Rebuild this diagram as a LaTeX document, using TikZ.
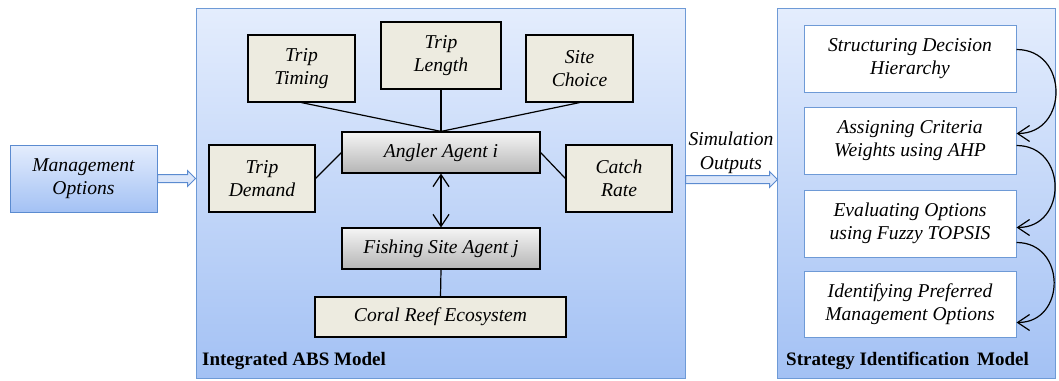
\documentclass[tikz,border=0pt]{standalone}
\usepackage{fontspec}
\setmainfont{Liberation Serif}
\usetikzlibrary{arrows.meta,calc}

\definecolor{panelborder}{HTML}{6E9AD6}
\definecolor{paneltop}{HTML}{E4EDFD}
\definecolor{panelbottom}{HTML}{A3C1F4}
\definecolor{beige}{HTML}{EDEBE0}
\definecolor{arrowfill}{HTML}{DCE7FA}
\definecolor{arrowline}{HTML}{5B8BD0}

\begin{document}
\begin{tikzpicture}[x=1pt,y=-1pt,
  box/.style={rectangle, inner sep=0pt, align=center,
    font=\fontsize{19.6}{23.5}\selectfont\itshape},
  factor/.style={box, draw=black, line width=1.2pt, fill=beige},
  agent/.style={box, draw=black, line width=1.2pt,
    top color=gray!8, bottom color=gray!58},
  stepbox/.style={box, draw=panelborder, line width=1pt, fill=white},
  panel/.style={rectangle, inner sep=0pt, draw=panelborder, line width=1pt,
    top color=paneltop, bottom color=panelbottom},
  title/.style={font=\fontsize{19}{23}\selectfont\bfseries, inner sep=0pt, anchor=base west},
  link/.style={draw=black, line width=1.2pt},
  flow/.style={link, -{Straight Barb[length=12pt,width=16pt]}},
  twoway/.style={link, {Straight Barb[length=12pt,width=16pt]}-{Straight Barb[length=12pt,width=16pt]}},
  blockarrow/.style={draw=arrowline, line width=1pt, fill=arrowfill, line join=miter}]

\useasboundingbox (0,0) rectangle (1059,380);

% panels
\node[panel, minimum width=489pt, minimum height=370pt] (abs) at (440.5,193) {};
\node[panel, minimum width=278pt, minimum height=370pt] (sid) at (916,193) {};

% management options input
\node[box, draw=arrowline, line width=1pt, top color=paneltop, bottom color=panelbottom,
  minimum width=147pt, minimum height=67pt] (mgmt) at (83.5,178.5) {Management\\Options};

% integrated ABS model
\node[factor, minimum width=107pt, minimum height=67pt] (timing) at (301.5,68.5) {Trip\\Timing};
\node[factor, minimum width=120pt, minimum height=67pt] (length) at (441,55.5) {Trip\\Length};
\node[factor, minimum width=107pt, minimum height=67pt] (choice) at (579.5,68.5) {Site\\Choice};
\node[factor, minimum width=106pt, minimum height=67pt] (demand) at (262,178.5) {Trip\\Demand};
\node[factor, minimum width=106pt, minimum height=67pt] (catch) at (619,178.5) {Catch\\Rate};
\node[agent, minimum width=198pt, minimum height=41pt] (angler) at (441,152.5) {Angler Agent \textit{i}};
\node[agent, minimum width=198pt, minimum height=41pt] (fishing) at (441,248.5) {Fishing Site Agent \textit{j}};
\node[factor, minimum width=251pt, minimum height=40pt] (coral) at (440.5,317) {Coral Reef Ecosystem};

\draw[link] (timing.south) -- (angler.north);
\draw[link] (length.south) -- (angler.north);
\draw[link] (choice.south) -- (angler.north);
\draw[link] (angler.west) -- (demand.east);
\draw[link] (angler.east) -- (catch.west);
\draw[twoway] (angler.south) -- (fishing.north);
\draw[link] (fishing.south) -- (coral.north);

\node[title] at (202,365) {Integrated ABS Model};

% strategy identification model
\node[stepbox, minimum width=212pt, minimum height=67pt] (struct) at (910,58.5) {Structuring Decision\\Hierarchy};
\node[stepbox, minimum width=212pt, minimum height=67pt] (assign) at (910,140.5) {Assigning Criteria\\Weights using AHP};
\node[stepbox, minimum width=212pt, minimum height=67pt] (eval) at (910,223.5) {Evaluating Options\\using Fuzzy TOPSIS};
\node[stepbox, minimum width=212pt, minimum height=66pt] (ident) at (910,304) {Identifying Preferred\\Management Options};

\draw[flow] ($(struct.south east)+(0,-43)$) to[out=0,in=0,looseness=1.6] ($(assign.south east)+(0,-41)$);
\draw[flow] ($(assign.south east)+(0,-29)$) to[out=0,in=0,looseness=1.6] ($(eval.south east)+(0,-30)$);
\draw[flow] ($(eval.south east)+(0,-15)$) to[out=0,in=0,looseness=1.6] ($(ident.south east)+(0,-15)$);

\node[title] at (786,365) {Strategy Identification\, Model};

% block arrows between the stages
\coordinate (tipA) at (abs.west|-mgmt.east);
\draw[blockarrow] ($(mgmt.east)+(0,-4)$) -- ($(tipA)+(-8,-4)$) -- ++(0,-4) -- (tipA)
  -- ($(tipA)+(-8,8)$) -- ++(0,-4) -- ($(mgmt.east)+(0,4)$) -- cycle;

\coordinate (tailB) at ($(abs.east|-mgmt.east)+(0,1)$);
\coordinate (tipB) at ($(sid.west|-mgmt.east)+(1,1)$);
\draw[blockarrow] ($(tailB)+(0,-4)$) -- ($(tipB)+(-8,-4)$) -- ++(0,-4) -- (tipB)
  -- ($(tipB)+(-8,8)$) -- ++(0,-4) -- ($(tailB)+(0,4)$) -- cycle;

\node[box] (simout) at (731,153) {Simulation\\Outputs};

\end{tikzpicture}
\end{document}
